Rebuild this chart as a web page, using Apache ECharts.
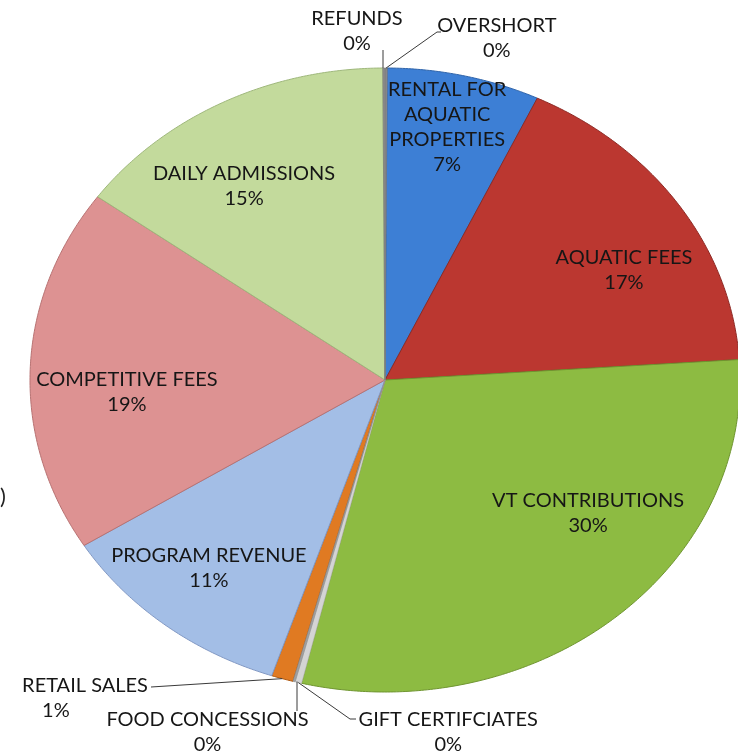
<!DOCTYPE html>
<html><head><meta charset="utf-8">
<script src="https://cdn.jsdelivr.net/npm/echarts@6/dist/echarts.min.js"></script>
<style>html,body{margin:0;padding:0;background:#fff}#c{width:738px;height:755px}</style>
</head><body><div id="c"></div>
<script>
// ---- data (clockwise from 12 o'clock) ----
const categories = ['OVERSHORT','RENTAL FOR AQUATIC PROPERTIES','AQUATIC FEES','VT CONTRIBUTIONS','GIFT CERTIFCIATES','FOOD CONCESSIONS','RETAIL SALES','PROGRAM REVENUE','COMPETITIVE FEES','DAILY ADMISSIONS','REFUNDS'];
const values = [0.1, 7, 17, 30, 0.3, 0.1, 1, 11, 19, 15, 0.1];
const labelText = ['OVERSHORT','RENTAL FOR\nAQUATIC\nPROPERTIES','AQUATIC FEES','VT CONTRIBUTIONS','GIFT CERTIFCIATES','FOOD CONCESSIONS','RETAIL SALES','PROGRAM REVENUE','COMPETITIVE FEES','DAILY ADMISSIONS','REFUNDS'];

// ---- styles / layout ----
const colors = ['#8c8c8c','#3d7fd5','#bb3730','#8dbb42','#d4d4d4','#a0a0a0','#e07a22','#a3bee6','#dd9292','#c3da9c','#8c8c8c'];
const strokes = ['#7a7a7a','#2f64aa','#8e2a25','#6f9530','#bbbbbb','#8a8a8a','#b05a12','#8299c4','#b87272','#9fb87c','#7a7a7a'];
const PIE = {cx: 385, cy: 380, rx: 355, ry: 312};
const FONT = '20px Lato, "Open Sans", sans-serif';
const LH = 25;
// label block centres relative to the pie centre, as fractions of rx / ry; leader end points in px
const labelLayout = [
  {dx: 0.315, dy: -1.096, leader: [[437, 32], [441, 32]]},
  {dx: 0.175, dy: -0.81},
  {dx: 0.673, dy: -0.353},
  {dx: 0.572, dy: 0.426},
  {dx: 0.178, dy: 1.128, leader: [[350, 719], [356, 719]]},
  {dx: -0.5, dy: 1.128, leader: [[297, 711]], vertical: true},
  {dx: -0.845, dy: 0.978, leader: [[151, 687]], second: {dx: -0.927, dy: 1.058}},
  {dx: -0.496, dy: 0.603},
  {dx: -0.727, dy: 0.038},
  {dx: -0.397, dy: -0.622},
  {dx: -0.079, dy: -1.12, leader: [[383, 50]], vertical: true}
];

const total = values.reduce((a, b) => a + b, 0);
const chart = echarts.init(document.getElementById('c'), null, {renderer: 'canvas'});

function renderItem(params, api) {
  const i = params.dataIndex;
  const v = api.value(0);
  let cum = 0;
  for (let j = 0; j < i; j++) cum += values[j];
  const a0 = cum / total * Math.PI * 2;
  const a1 = (cum + v) / total * Math.PI * 2;
  const pts = [[PIE.cx, PIE.cy]];
  const n = Math.max(2, Math.ceil((a1 - a0) / (Math.PI / 360)));
  for (let k = 0; k <= n; k++) {
    const a = a0 + (a1 - a0) * k / n;
    pts.push([PIE.cx + PIE.rx * Math.sin(a), PIE.cy - PIE.ry * Math.cos(a)]);
  }
  const tiny = v / total < 0.005;
  const pct = Math.round(v / total * 100) + '%';
  const L = labelLayout[i];
  const children = [{
    type: 'polygon', shape: {points: pts}, z2: tiny ? 20 : 1,
    style: {fill: colors[i], stroke: strokes[i], lineWidth: tiny ? 0.6 : 1}
  }];
  const lx = PIE.cx + L.dx * PIE.rx, ly = PIE.cy + L.dy * PIE.ry;
  const txt = L.second ? labelText[i] : labelText[i] + '\n' + pct;
  children.push({
    type: 'text', z2: 30,
    style: {text: txt, x: lx, y: ly, align: 'center', verticalAlign: 'middle', font: FONT, fill: '#161616', lineHeight: LH}
  });
  if (L.second) {
    children.push({
      type: 'text', z2: 30,
      style: {text: pct, x: PIE.cx + L.second.dx * PIE.rx, y: PIE.cy + L.second.dy * PIE.ry, align: 'center', verticalAlign: 'middle', font: FONT, fill: '#161616'}
    });
  }
  if (L.leader) {
    const am = (a0 + a1) / 2;
    const start = [PIE.cx + PIE.rx * Math.sin(am), PIE.cy - PIE.ry * Math.cos(am)];
    if (L.vertical) start[0] = L.leader[0][0];
    children.push({
      type: 'polyline', z2: 25, shape: {points: [start].concat(L.leader)},
      style: {stroke: '#3a3a3a', lineWidth: 1, fill: null}
    });
  }
  return {type: 'group', children: children};
}

chart.setOption({
  animation: false,
  backgroundColor: '#ffffff',
  series: [{
    type: 'custom',
    coordinateSystem: 'none',
    name: 'Revenue',
    data: values.map((v, i) => ({name: categories[i], value: [v]})),
    renderItem: renderItem
  }],
  graphic: [{type: 'text', left: 0, top: 486, style: {text: ')', font: '22px Lato, sans-serif', fill: '#222'}}]
});
</script></body></html>
